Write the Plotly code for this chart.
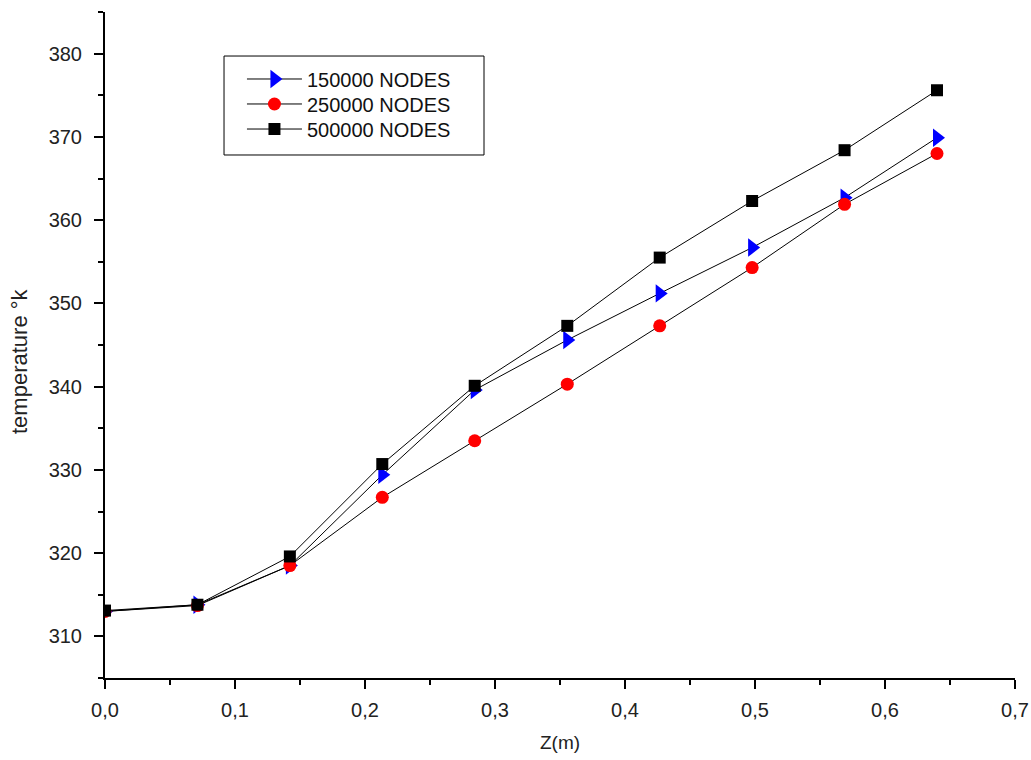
import plotly.graph_objects as go

z = [0.0, 0.0711, 0.1422, 0.2133, 0.2844, 0.3556, 0.4267, 0.4978, 0.5689, 0.64]
t_150k = [313.0, 313.8, 318.5, 329.4, 339.6, 345.6, 351.2, 356.7, 362.7, 369.9]
t_250k = [313.0, 313.7, 318.5, 326.7, 333.5, 340.3, 347.3, 354.3, 361.9, 368.0]
t_500k = [313.1, 313.8, 319.6, 330.7, 340.1, 347.3, 355.5, 362.3, 368.4, 375.6]
names = ["150000 NODES", "250000 NODES", "500000 NODES"]

fig = go.Figure()
fig.add_trace(go.Scatter(x=z, y=t_150k, name=names[0], mode="lines+markers", legend="legend",
                         line=dict(color="black", width=1),
                         marker=dict(symbol="triangle-right", size=16, color="#0000ff")))
fig.add_trace(go.Scatter(x=z, y=t_250k, name=names[1], mode="lines+markers", legend="legend2",
                         line=dict(color="black", width=1),
                         marker=dict(symbol="circle", size=13, color="#ff0000")))
fig.add_trace(go.Scatter(x=z, y=t_500k, name=names[2], mode="lines+markers", legend="legend3",
                         line=dict(color="black", width=1),
                         marker=dict(symbol="square", size=12, color="black")))

fam = "Liberation Sans, Arial, sans-serif"
axis_font = dict(family=fam, size=20, color="#222222")


def leg(ypos):
    return dict(x=0.1505, y=ypos, xanchor="left", yanchor="middle",
                borderwidth=0, bgcolor="rgba(0,0,0,0)",
                font=dict(family=fam, size=20, color="#111111"), itemwidth=55)


fig.update_layout(
    width=1031, height=760,
    margin=dict(l=105, r=16, t=12, b=82),
    plot_bgcolor="white", paper_bgcolor="white",
    separators=", ",
    font=dict(family=fam, size=20, color="#222222"),
    showlegend=True,
    legend=leg(0.8994), legend2=leg(0.8619), legend3=leg(0.8243),
    shapes=[dict(type="rect", xref="paper", yref="paper",
                 x0=0.1308, x1=0.4165, y0=0.7853, y1=0.9339,
                 line=dict(color="black", width=1), fillcolor="white", layer="above")],
    annotations=[dict(text="temperature °k", xref="paper", yref="paper",
                      x=-0.0934, y=0.476, textangle=-90, showarrow=False,
                      xanchor="center", yanchor="middle",
                      font=dict(family=fam, size=22, color="#222222"))],
    xaxis=dict(range=[0, 0.7], dtick=0.1, tickformat=".1f", showgrid=False, zeroline=False,
               automargin=False,
               showline=True, linecolor="black", linewidth=2,
               ticks="outside", ticklen=9, tickwidth=2, tickcolor="black",
               tickfont=axis_font, ticklabelstandoff=4,
               minor=dict(dtick=0.05, ticks="outside", ticklen=5, tickwidth=2, tickcolor="black"),
               title=dict(text="Z(m)", font=dict(family=fam, size=19, color="#222222"), standoff=16)),
    yaxis=dict(range=[305, 385], dtick=10, showgrid=False, zeroline=False,
               automargin=False,
               showline=True, linecolor="black", linewidth=2,
               ticks="outside", ticklen=9, tickwidth=2, tickcolor="black",
               tickfont=axis_font, ticklabelstandoff=8,
               minor=dict(dtick=5, ticks="outside", ticklen=5, tickwidth=2, tickcolor="black")),
)
fig.write_html("out.html")
